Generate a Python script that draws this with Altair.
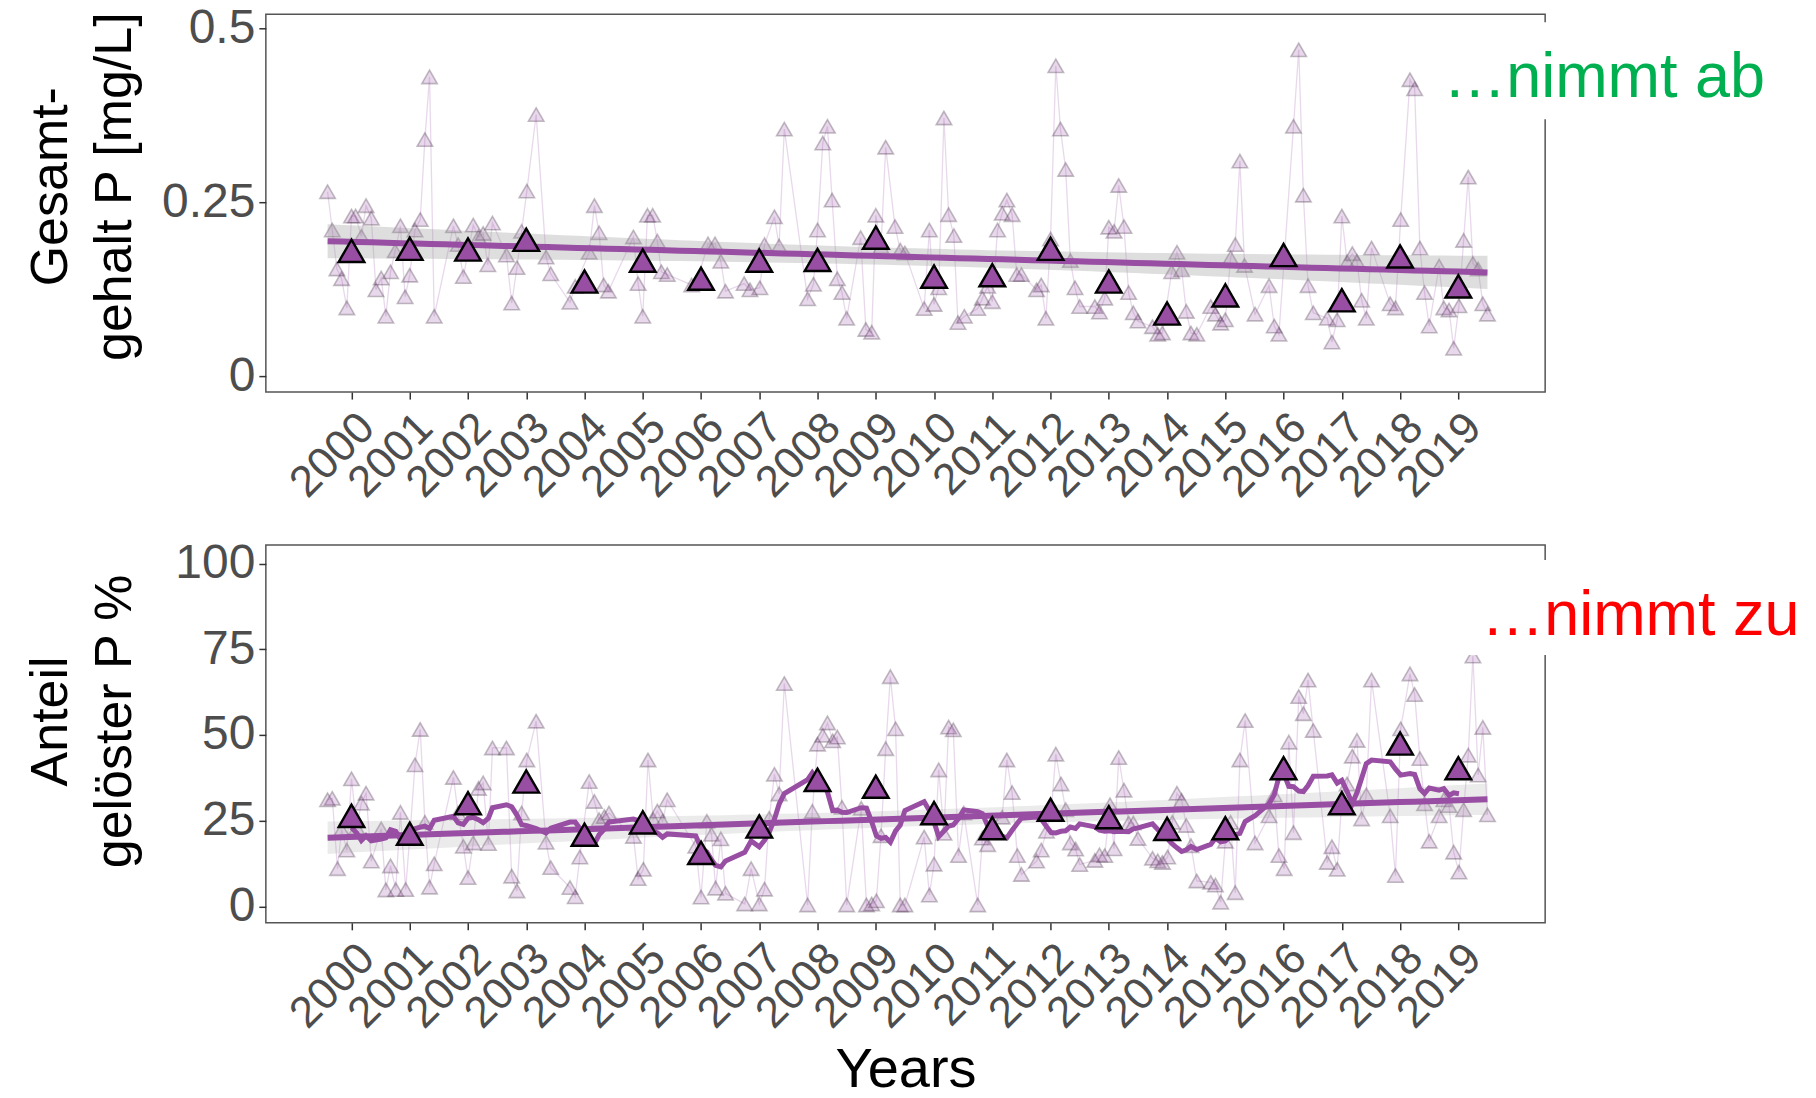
import altair as alt
import numpy as np
import pandas as pd

years = list(range(2000, 2020))

# annual means (large triangles)
tp_mean = [0.180, 0.183, 0.182, 0.196, 0.136, 0.166, 0.140, 0.166, 0.167, 0.199,
           0.143, 0.145, 0.183, 0.136, 0.090, 0.116, 0.174, 0.109, 0.172, 0.129]
dp_mean = [26.4, 21.2, 30.1, 36.4, 20.9, 24.5, 15.6, 23.3, 36.9, 34.9,
           27.2, 22.8, 28.2, 26.0, 22.6, 22.8, 40.3, 30.1, 47.5, 40.3]

# individual samples, total P [mg/L]
tp_t = [1999.59, 1999.67, 1999.75, 1999.83, 1999.92, 2000.00, 2000.07, 2000.17, 2000.25, 2000.34,
        2000.42, 2000.51, 2000.59, 2000.67, 2000.75, 2000.84, 2000.92, 2001.00, 2001.09, 2001.18,
        2001.26, 2001.34, 2001.42, 2001.75, 2001.83, 2001.92, 2002.09, 2002.18, 2002.26, 2002.34,
        2002.42, 2002.66, 2002.75, 2002.84, 2002.92, 2003.01, 2003.17, 2003.34, 2003.42, 2003.75,
        2003.84, 2004.08, 2004.17, 2004.25, 2004.33, 2004.41, 2004.84, 2004.92, 2005.00, 2005.08,
        2005.17, 2005.25, 2005.32, 2005.42, 2005.84, 2005.92, 2006.12, 2006.24, 2006.34, 2006.42,
        2006.74, 2006.84, 2007.01, 2007.09, 2007.26, 2007.34, 2007.43, 2007.83, 2007.93, 2008.00,
        2008.09, 2008.17, 2008.25, 2008.34, 2008.42, 2008.50, 2008.74, 2008.83, 2008.93, 2009.00,
        2009.09, 2009.17, 2009.33, 2009.42, 2009.50, 2009.83, 2009.92, 2010.00, 2010.08, 2010.17,
        2010.25, 2010.34, 2010.41, 2010.52, 2010.75, 2010.83, 2010.92, 2011.00, 2011.09, 2011.17,
        2011.25, 2011.34, 2011.42, 2011.50, 2011.76, 2011.84, 2011.92, 2012.00, 2012.09, 2012.17,
        2012.26, 2012.34, 2012.42, 2012.50, 2012.76, 2012.84, 2012.93, 2013.00, 2013.09, 2013.17,
        2013.26, 2013.34, 2013.42, 2013.50, 2013.75, 2013.84, 2013.92, 2014.08, 2014.17, 2014.25,
        2014.33, 2014.41, 2014.51, 2014.75, 2014.83, 2014.92, 2015.00, 2015.09, 2015.17, 2015.25,
        2015.33, 2015.51, 2015.75, 2015.84, 2015.92, 2016.17, 2016.26, 2016.34, 2016.42, 2016.51,
        2016.75, 2016.83, 2016.92, 2017.00, 2017.09, 2017.18, 2017.26, 2017.34, 2017.42, 2017.51,
        2017.83, 2017.92, 2018.01, 2018.17, 2018.25, 2018.34, 2018.42, 2018.50, 2018.67, 2018.75,
        2018.84, 2018.92, 2019.01, 2019.09, 2019.17, 2019.25, 2019.34, 2019.42, 2019.50]
tp_v = [0.265, 0.210, 0.154, 0.140, 0.098, 0.230, 0.230, 0.201, 0.245, 0.227,
        0.124, 0.141, 0.086, 0.150, 0.180, 0.216, 0.114, 0.145, 0.210, 0.225,
        0.340, 0.430, 0.086, 0.216, 0.189, 0.143, 0.217, 0.200, 0.205, 0.160,
        0.220, 0.174, 0.105, 0.156, 0.208, 0.266, 0.376, 0.171, 0.147, 0.106,
        0.129, 0.178, 0.245, 0.206, 0.131, 0.122, 0.200, 0.133, 0.086, 0.231,
        0.231, 0.194, 0.150, 0.146, 0.131, 0.133, 0.190, 0.190, 0.165, 0.122,
        0.133, 0.124, 0.127, 0.189, 0.229, 0.187, 0.355, 0.111, 0.132, 0.210,
        0.335, 0.359, 0.253, 0.140, 0.120, 0.083, 0.199, 0.067, 0.063, 0.231,
        0.186, 0.329, 0.215, 0.181, 0.177, 0.097, 0.210, 0.103, 0.127, 0.371,
        0.232, 0.202, 0.077, 0.086, 0.097, 0.112, 0.129, 0.107, 0.210, 0.234,
        0.253, 0.232, 0.146, 0.146, 0.124, 0.131, 0.083, 0.197, 0.446, 0.355,
        0.297, 0.166, 0.127, 0.100, 0.100, 0.092, 0.112, 0.214, 0.208, 0.274,
        0.215, 0.120, 0.091, 0.079, 0.071, 0.060, 0.062, 0.150, 0.178, 0.153,
        0.093, 0.062, 0.060, 0.100, 0.089, 0.076, 0.081, 0.170, 0.189, 0.309,
        0.159, 0.089, 0.130, 0.072, 0.060, 0.359, 0.469, 0.260, 0.130, 0.091,
        0.083, 0.049, 0.081, 0.230, 0.164, 0.176, 0.165, 0.109, 0.083, 0.184,
        0.104, 0.098, 0.225, 0.426, 0.413, 0.184, 0.120, 0.072, 0.158, 0.098,
        0.095, 0.040, 0.101, 0.195, 0.286, 0.162, 0.154, 0.104, 0.089]

# individual samples, dissolved share [%]
dp_t = [1999.59, 1999.67, 1999.76, 1999.83, 1999.92, 2000.00, 2000.09, 2000.17, 2000.25, 2000.34,
        2000.51, 2000.59, 2000.67, 2000.76, 2000.84, 2000.93, 2001.01, 2001.09, 2001.18, 2001.26,
        2001.34, 2001.42, 2001.75, 2001.83, 2001.92, 2002.00, 2002.09, 2002.18, 2002.26, 2002.35,
        2002.42, 2002.66, 2002.75, 2002.84, 2002.92, 2003.01, 2003.17, 2003.34, 2003.42, 2003.75,
        2003.84, 2003.92, 2004.08, 2004.17, 2004.25, 2004.34, 2004.42, 2004.84, 2004.92, 2005.01,
        2005.09, 2005.18, 2005.25, 2005.34, 2005.42, 2005.91, 2006.00, 2006.10, 2006.18, 2006.25,
        2006.34, 2006.42, 2006.75, 2006.86, 2007.00, 2007.09, 2007.17, 2007.26, 2007.34, 2007.43,
        2007.83, 2007.91, 2008.00, 2008.09, 2008.17, 2008.26, 2008.34, 2008.42, 2008.50, 2008.75,
        2008.84, 2008.93, 2009.01, 2009.09, 2009.17, 2009.25, 2009.34, 2009.42, 2009.50, 2009.83,
        2009.92, 2010.00, 2010.08, 2010.17, 2010.25, 2010.33, 2010.42, 2010.51, 2010.75, 2010.83,
        2010.92, 2011.00, 2011.17, 2011.25, 2011.34, 2011.43, 2011.50, 2011.76, 2011.84, 2011.93,
        2012.01, 2012.09, 2012.18, 2012.26, 2012.34, 2012.43, 2012.50, 2012.76, 2012.84, 2012.93,
        2013.02, 2013.09, 2013.17, 2013.26, 2013.34, 2013.42, 2013.50, 2013.75, 2013.84, 2013.92,
        2014.01, 2014.09, 2014.17, 2014.25, 2014.33, 2014.41, 2014.51, 2014.75, 2014.83, 2014.92,
        2015.00, 2015.09, 2015.17, 2015.25, 2015.34, 2015.51, 2015.75, 2015.84, 2015.92, 2016.01,
        2016.09, 2016.17, 2016.26, 2016.34, 2016.42, 2016.51, 2016.75, 2016.83, 2016.92, 2017.00,
        2017.09, 2017.18, 2017.26, 2017.34, 2017.42, 2017.51, 2017.83, 2017.92, 2018.01, 2018.17,
        2018.25, 2018.34, 2018.42, 2018.50, 2018.67, 2018.75, 2018.84, 2018.92, 2019.01, 2019.09,
        2019.17, 2019.25, 2019.34, 2019.42, 2019.50]
dp_v = [31.1, 31.5, 11.0, 22.4, 16.4, 37.2, 23.0, 30.1, 33.0, 13.2,
        22.6, 4.8, 11.8, 4.9, 27.4, 4.9, 22.4, 41.3, 51.6, 24.5,
        5.6, 12.4, 37.6, 27.2, 17.5, 8.4, 18.5, 34.4, 36.0, 18.3,
        46.2, 46.2, 8.8, 4.5, 27.2, 42.7, 54.0, 18.7, 11.3, 5.5,
        2.8, 14.4, 36.4, 30.6, 25.3, 26.2, 27.2, 20.4, 8.1, 10.8,
        42.7, 25.3, 27.8, 24.8, 31.1, 17.5, 2.7, 24.8, 21.0, 5.3,
        19.7, 3.8, 0.7, 11.0, 0.7, 5.0, 25.7, 38.5, 32.8, 65.0,
        0.4, 27.7, 47.3, 49.9, 53.5, 48.3, 49.4, 28.9, 0.4, 28.6,
        0.4, 0.7, 1.6, 20.6, 46.0, 67.0, 51.8, 0.4, 0.4, 20.2,
        3.3, 12.3, 39.8, 21.3, 52.3, 51.5, 14.8, 27.2, 0.4, 19.9,
        18.0, 23.8, 26.0, 42.7, 33.2, 14.8, 9.3, 13.2, 16.4, 21.9,
        27.2, 44.4, 35.7, 28.2, 18.5, 16.7, 12.2, 13.4, 15.0, 14.8,
        29.6, 16.8, 43.4, 33.9, 24.3, 24.3, 19.8, 14.0, 13.3, 12.8,
        14.4, 24.5, 33.0, 30.9, 23.6, 17.7, 7.4, 7.0, 6.2, 1.2,
        19.0, 24.5, 4.0, 42.7, 54.2, 18.5, 26.4, 32.5, 14.8, 11.0,
        47.9, 21.5, 61.2, 56.2, 66.0, 51.3, 12.8, 17.4, 10.8, 31.0,
        35.7, 43.8, 48.4, 25.5, 32.5, 66.0, 26.4, 9.0, 51.8, 67.8,
        61.8, 43.1, 29.9, 19.0, 26.4, 31.1, 29.4, 15.8, 10.0, 28.2,
        44.1, 73.0, 38.3, 52.2, 26.7]

PURPLE = "#984EA3"
W, H = 1280, 378
XDOM = [1998.53, 2020.49]
FONT = "Liberation Sans"


def lm_band(t, v, level_t=1.97):
    t = np.asarray(t, float)
    v = np.asarray(v, float)
    n = len(t)
    A = np.vstack([np.ones(n), t]).T
    coef, *_ = np.linalg.lstsq(A, v, rcond=None)
    resid = v - A @ coef
    s2 = resid @ resid / (n - 2)
    tm = t.mean()
    sxx = ((t - tm) ** 2).sum()
    g = np.linspace(t.min(), t.max(), 80)
    fit = coef[0] + coef[1] * g
    se = np.sqrt(s2 * (1.0 / n + (g - tm) ** 2 / sxx))
    return pd.DataFrame({"t": g, "fit": fit, "lo": fit - level_t * se, "hi": fit + level_t * se})


def panel(sample_t, sample_v, means, ydom, yvals, yfmt, ytitle, show_xtitle,
          note, note_color, note_x, note_y, box, band_opacity, rolling, title_y):
    samples = pd.DataFrame({"t": sample_t, "v": sample_v})
    annual = pd.DataFrame({"t": years, "v": means})
    band = lm_band(sample_t, sample_v)

    xaxis = alt.Axis(values=years, format="d", labelAngle=315, labelAlign="right",
                     labelBaseline="top", labelFontSize=44, labelPadding=6,
                     labelOverlap=False, labelFlush=False,
                     title="Years" if show_xtitle else "", titleFontSize=56,
                     titlePadding=6, titleFont=FONT, titleColor="black",
                     titleFontWeight="normal")
    xenc = alt.X("t:Q", scale=alt.Scale(domain=XDOM, nice=False, zero=False), axis=xaxis)
    xenc_plain = alt.X("t:Q", scale=alt.Scale(domain=XDOM, nice=False, zero=False))
    yaxis = alt.Axis(values=yvals, format=yfmt, labelFontSize=48, labelPadding=4,
                     labelOverlap=False, labelFlush=False,
                     title=ytitle, titleFontSize=52, titleFont=FONT, titleColor="black",
                     titleFontWeight="normal", titleLineHeight=64, titleAngle=270,
                     titleX=-188, titleY=title_y, titleAlign="center", titleBaseline="bottom")
    yscale = alt.Scale(domain=ydom, nice=False, zero=False)
    yenc = alt.Y("v:Q", scale=yscale, axis=yaxis)

    thin = alt.Chart(samples).mark_line(color=PURPLE, opacity=0.22, strokeWidth=1.3).encode(
        x=xenc, y=yenc)
    small = alt.Chart(samples).mark_point(
        shape="triangle-up", filled=True, fill=PURPLE, fillOpacity=0.22,
        stroke="#3a2a3d", strokeOpacity=0.3, strokeWidth=1.6, size=240).encode(
        x=xenc_plain, y=alt.Y("v:Q", scale=yscale))
    ribbon = alt.Chart(band).mark_area(color="#999999", opacity=band_opacity).encode(
        x=xenc_plain, y=alt.Y("lo:Q", scale=yscale), y2="hi:Q")
    trend = alt.Chart(band).mark_line(color=PURPLE, strokeWidth=6).encode(
        x=xenc_plain, y=alt.Y("fit:Q", scale=yscale))
    big = alt.Chart(annual).mark_point(
        shape="triangle-up", filled=True, fill=PURPLE, fillOpacity=1,
        stroke="black", strokeWidth=2.4, strokeOpacity=1, size=660).encode(
        x=xenc_plain, y=alt.Y("v:Q", scale=yscale))

    layers = [thin, small, ribbon, trend]
    if rolling:
        roll = alt.Chart(samples).transform_window(
            ma="mean(v)", n="count(v)", frame=[-5, 6], sort=[alt.SortField("t")]
        ).transform_filter("datum.n == 12").mark_line(
            color=PURPLE, strokeWidth=5).encode(
            x=xenc_plain, y=alt.Y("ma:Q", scale=yscale))
        layers.append(roll)
    layers.append(big)

    one = pd.DataFrame({"k": [0]})
    bx = alt.Chart(one).mark_rect(color="white").encode(
        x=alt.value(box[0]), x2=alt.value(box[1]), y=alt.value(box[2]), y2=alt.value(box[3]))
    txt = alt.Chart(one).mark_text(
        text=note, font=FONT, fontSize=63, color=note_color, align="left",
        baseline="alphabetic").encode(x=alt.value(note_x), y=alt.value(note_y))
    layers += [bx, txt]
    return alt.layer(*layers).properties(width=W, height=H)


top = panel(tp_t, tp_v, tp_mean, [-0.023, 0.52], [0, 0.25, 0.5], "~g",
            ["Gesamt-", "gehalt P [mg/L]"], False,
            "\u2026nimmt ab", "#00B050", 1178, 83, [1172, 1536, 8, 105], 0.32, False, 172)
bottom = panel(dp_t, dp_v, dp_mean, [-4.8, 105.4], [0, 25, 50, 75, 100], "d",
               ["Anteil", "gel\u00f6ster P %"], True,
               "\u2026nimmt zu", "#FF0000", 1216, 90, [1198, 1545, 15, 110], 0.2, True, 176)

chart = alt.vconcat(top, bottom, spacing=31).properties(
    padding={"left": 24, "top": 3, "right": 5, "bottom": 0}
).configure_view(
    stroke="#555555", strokeWidth=1.5
).configure_axis(
    domain=False, grid=False, ticks=True, tickColor="#333333", tickSize=7, tickWidth=1.5,
    labelFont=FONT, labelColor="#4D4D4D", titleFont=FONT
)

chart.save("out.html", embed_options={"renderer": "svg", "actions": False})
